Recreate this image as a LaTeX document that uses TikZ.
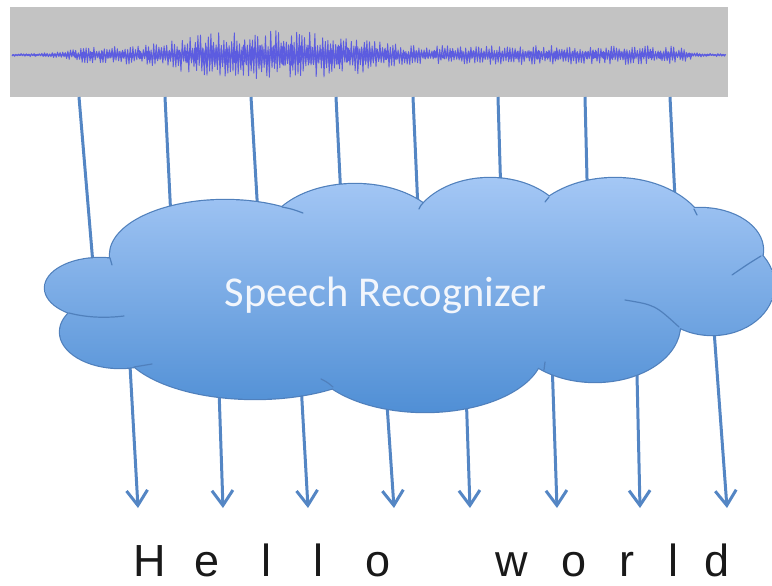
\documentclass[tikz,border=0pt]{standalone}
\usepackage{fontspec}
\setmainfont{Liberation Sans}
\newfontfamily\calib{Carlito}
\usetikzlibrary{arrows.meta}
\definecolor{wavegrey}{RGB}{195,195,195}
\definecolor{wavecol}{RGB}{92,92,224}
\definecolor{linkcol}{RGB}{84,134,196}
\definecolor{cloudline}{RGB}{80,128,188}
\definecolor{cloudtop}{RGB}{164,199,245}
\definecolor{cloudbot}{RGB}{80,143,213}
\definecolor{cloudtext}{RGB}{242,246,252}
\definecolor{lettercol}{RGB}{25,25,25}
\begin{document}
\begin{tikzpicture}[x=1pt,y=-1pt,
  link/.style={draw=linkcol, line width=3pt},
  arrowlink/.style={link, -{Straight Barb[length=15pt,width=21pt]}},
  lobe/.style={draw=cloudline, line width=2.4pt},
  seam/.style={draw=cloudline, line width=1.2pt, line cap=round},
  letter/.style={anchor=base, font=\fontsize{45}{45}\selectfont, text=lettercol, inner sep=0pt, text depth=0pt},
  declare function={
    clampx(\t)=max(min(\t,9),-9);
    sigm(\t)=1/(1+exp(clampx(-\t)));
    wenv(\x)=1.5+8*sigm((\x-70)/10)*sigm((688-\x)/5)+15*exp(-min((abs(\x-275)/100)^4,9));
    wsgn(\i)=1-2*mod(round(\i),2);
  }]
\useasboundingbox (0,0) rectangle (772,586);

% waveform panel
\node (wave) [fill=wavegrey, minimum width=718pt, minimum height=90pt, inner sep=0pt, anchor=north west] at (10,7) {};
\pgfmathsetseed{4242}
\draw[wavecol, line width=0.9pt, line join=round]
  plot[samples=550, domain=0:549, variable=\i] ({12+1.3*\i},{55+wsgn(\i)*wenv(12+1.3*\i)*(0.3+0.7*rnd)});
\draw[wavecol, line width=0.8pt, line join=round]
  plot[samples=700, domain=0:699, variable=\i] ({12+1.02*\i},{55+wsgn(\i)*wenv(12+1.02*\i)*(0.15+0.3*rnd)});

% connectors: waveform -> recognizer (ends hidden behind the cloud)
\foreach \k/\xa/\xb in {1/79/96, 2/165/175, 3/251/263, 4/336/346, 5/413/422, 6/498/504, 7/585/590, 8/670/680}{
  \coordinate (s\k) at (\xa,97);
  \coordinate (m\k) at (\xb,300);
  \draw[link] (s\k) -- (m\k);
}
% connectors: recognizer -> letters
\foreach \k/\xa/\xb in {1/128/138, 2/217/223, 3/298/308, 4/382/394, 5/464/470, 6/551/557, 7/636/640, 8/714/727}{
  \coordinate (n\k) at (\xa,330);
  \coordinate (a\k) at (\xb,508);
  \draw[arrowlink] (n\k) -- (a\k);
}

% cloud
\def\lobelist{100/288/55/30, 120/332/60/36, 225/255/115/55, 355/240/90/56, 490/235/80/57, 615/245/95/67, 700/250/63/42, 712/285/62/50, 595/325/85/57, 425/350/118/62, 255/340/135/59, 410/290/250/70, 180/305/60/40}
\foreach \a/\b/\c/\d in \lobelist {
  \draw[lobe] (\a,\b) ellipse [x radius=\c, y radius=\d];
}
\shade[top color=cloudtop, bottom color=cloudbot]
  foreach \a/\b/\c/\d in \lobelist {(\a,\b) ellipse [x radius=\c, y radius=\d]};
% inner seams of the cloud
\draw[seam] (69,313) .. controls (88,318) and (108,318) .. (124,316);
\draw[seam] (110,258) .. controls (111,261) .. (112,265);
\draw[seam] (282,207) .. controls (292,209) .. (303,213);
\draw[seam] (423,203) .. controls (421,205) .. (419,209);
\draw[seam] (549,197) .. controls (547,199) .. (545,202);
\draw[seam] (694,209) .. controls (696,212) .. (697,215);
\draw[seam] (761,256) .. controls (748,264) .. (732,275);
\draw[seam] (625,300) .. controls (655,305) .. (679,327);
\draw[seam] (544,370) .. controls (544,366) .. (545,362);
\draw[seam] (333,387) .. controls (327,382) .. (321,379);
\draw[seam] (134,367) .. controls (143,366) .. (152,364);

\node (label) [anchor=base, inner sep=0pt, font=\calib\fontsize{42.5}{42.5}\selectfont, text=cloudtext] at (385.5,306) {Speech Recognizer};

% output letters
\node (l1) [letter] at (150,576) {H};
\node (l2) [letter] at (207,576) {e};
\node (l3) [letter] at (266,576) {l};
\node (l4) [letter] at (318,576) {l};
\node (l5) [letter] at (378,576) {o};
\node (l6) [letter] at (512,576) {w};
\node (l7) [letter] at (574,576) {o};
\node (l8) [letter] at (627,576) {r};
\node (l9) [letter] at (673,576) {l};
\node (l10) [letter] at (717,576) {d};
\end{tikzpicture}
\end{document}
